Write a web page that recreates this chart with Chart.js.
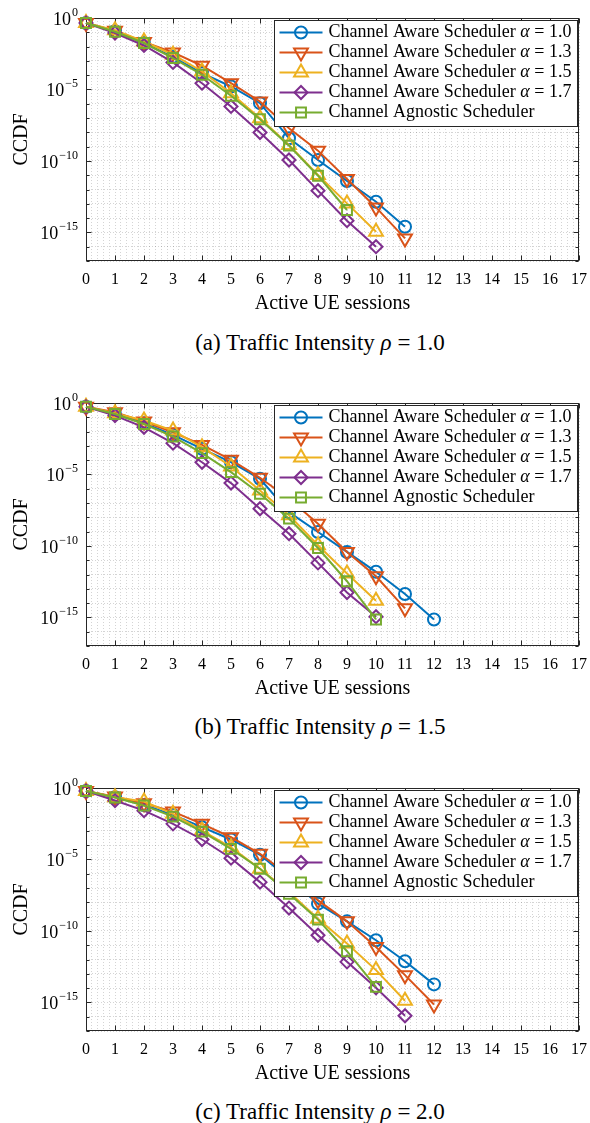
<!DOCTYPE html>
<html>
<head>
<meta charset="utf-8">
<script src="https://cdn.jsdelivr.net/npm/chart.js@4.4.1/dist/chart.umd.min.js"></script>
<style>
  body { margin: 0; background: #fff; width: 590px; height: 1123px; position: relative; overflow: hidden; font-family: "Liberation Serif", serif; }
  .panel { position: absolute; left: 0; width: 590px; height: 320px; }
  .caption { position: absolute; left: 50px; width: 540px; text-align: center; font-size: 23px; color: #000; line-height: 26px; }
</style>
</head>
<body>
<div class="panel" style="top:0px"><canvas id="chartA" width="590" height="320"></canvas></div>
<div class="caption" style="top:330px">(a) Traffic Intensity <i>ρ</i> = 1.0</div>
<div class="panel" style="top:385px"><canvas id="chartB" width="590" height="320"></canvas></div>
<div class="caption" style="top:714px">(b) Traffic Intensity <i>ρ</i> = 1.5</div>
<div class="panel" style="top:770px"><canvas id="chartC" width="590" height="320"></canvas></div>
<div class="caption" style="top:1099px">(c) Traffic Intensity <i>ρ</i> = 2.0</div>

<script>
// number of active UE sessions (x axis)
var sessions = [0, 1, 2, 3, 4, 5, 6, 7, 8, 9, 10, 11, 12];
var xTickLabels = ["0", "1", "2", "3", "4", "5", "6", "7", "8", "9", "10", "11", "12", "13", "14", "15", "16", "17"];
// y tick labels are 10^exp, drawn as base + raised exponent
var yTickExponents = [0, -5, -10, -15];
var yTickBase = "10";
var yTickPowers = ["0", "\u22125", "\u221210", "\u221215"];

var seriesLabels = [
  "Channel Aware Scheduler α = 1.0",
  "Channel Aware Scheduler α = 1.3",
  "Channel Aware Scheduler α = 1.5",
  "Channel Aware Scheduler α = 1.7",
  "Channel Agnostic Scheduler"
];

// (a) rho = 1.0
var rho10_alpha10 = [0.45, 0.117, 1.78e-2, 1.86e-3, 1.38e-4, 1.62e-5, 1.1e-6, 3.9e-9, 1.17e-10, 3.98e-12, 1.41e-13, 2.5e-15];
var rho10_alpha13 = [0.45, 0.129, 2.09e-2, 3.9e-3, 4.57e-4, 2.75e-5, 1.45e-6, 1.95e-8, 5.25e-10, 5.5e-12, 5.6e-14, 3.8e-16];
var rho10_alpha15 = [0.45, 0.138, 2.29e-2, 2.69e-3, 1.82e-4, 5.5e-6, 9.8e-8, 1.32e-9, 1.05e-11, 1.07e-13, 1.12e-15];
var rho10_alpha17 = [0.45, 8.9e-2, 1.2e-2, 7.8e-4, 2.75e-5, 6.5e-7, 9.8e-9, 1.17e-10, 8.3e-13, 6.6e-15, 1.0e-16];
var rho10_agnostic = [0.45, 0.11, 1.78e-2, 1.58e-3, 1.07e-4, 3.6e-6, 8.3e-8, 1.17e-9, 9.3e-12, 3.7e-14];

// (b) rho = 1.5
var rho15_alpha10 = [0.55, 0.17, 3.8e-2, 5.9e-3, 6.2e-4, 7.2e-5, 5.0e-6, 2.3e-8, 9.5e-10, 3.8e-11, 1.55e-12, 4.3e-14, 7.2e-16];
var rho15_alpha13 = [0.55, 0.224, 5.0e-2, 8.9e-3, 1.17e-3, 1.05e-4, 5.9e-6, 2.0e-7, 3.6e-9, 3.8e-11, 7.6e-13, 4.3e-15];
var rho15_alpha15 = [0.55, 0.19, 5.9e-2, 1.17e-2, 8.1e-4, 3.6e-5, 7.6e-7, 1.38e-8, 1.12e-10, 1.17e-12, 1.45e-14];
var rho15_alpha17 = [0.55, 0.132, 2.0e-2, 1.55e-3, 7.2e-5, 2.5e-6, 4.0e-8, 7.2e-10, 6.5e-12, 5.5e-14, 1.12e-15];
var rho15_agnostic = [0.55, 0.17, 3.4e-2, 4.5e-3, 3.1e-4, 1.45e-5, 4.5e-7, 8.1e-9, 7.2e-11, 3.4e-13, 7.2e-16];

// (c) rho = 2.0
var rho20_alpha10 = [0.62, 0.224, 6.5e-2, 1.32e-2, 1.82e-3, 2.5e-4, 2.14e-5, 4.5e-7, 8.1e-9, 4.7e-10, 2.24e-11, 7.6e-13, 1.82e-14];
var rho20_alpha13 = [0.62, 0.25, 8.5e-2, 2.24e-2, 3.1e-3, 3.6e-4, 2.5e-5, 7.6e-7, 1.38e-8, 4.7e-10, 7.6e-12, 8.1e-14, 7.2e-16];
var rho20_alpha15 = [0.62, 0.224, 0.112, 1.55e-2, 1.05e-3, 7.2e-5, 2.24e-6, 5.2e-8, 7.2e-10, 1.32e-11, 1.82e-13, 1.32e-15];
var rho20_alpha17 = [0.62, 0.132, 2.6e-2, 3.1e-3, 2.5e-4, 1.23e-5, 2.6e-7, 4.0e-9, 5.0e-11, 6.9e-13, 1.05e-14, 1.17e-16];
var rho20_agnostic = [0.62, 0.214, 5.9e-2, 1.0e-2, 8.9e-4, 5.5e-5, 2.24e-6, 4.0e-8, 6.2e-10, 3.8e-12, 1.23e-14];

// styles (MATLAB default order)
var seriesColors = ["#0072BD", "#D95319", "#EDB120", "#7E2F8E", "#77AC30"];
var seriesMarkers = ["circle", "triangle", "triangle", "rectRot", "rect"];
var seriesRotation = [0, 180, 0, 0, 0];
var seriesRadius = [6, 8, 8, 6.5, 7];

var serif = '"Liberation Serif", "Times New Roman", serif';

function toPoints(values) {
  return values.map(function (v, i) {
    return { x: sessions[i], y: v };
  });
}

// box + inward tick marks like matlab, plus the 10^n labels
var framePlugin = {
  id: "frame",
  beforeDatasetsDraw: function (chart) {
    var ctx = chart.ctx;
    var a = chart.chartArea;
    var x = chart.scales.x;
    var y = chart.scales.y;
    var L = Math.round(a.left) + 0.5, R = Math.round(a.right) - 0.5;
    var T = Math.round(a.top) + 0.5, B = Math.round(a.bottom) - 0.5;
    ctx.save();
    ctx.strokeStyle = "#262626";
    ctx.lineWidth = 1;
    ctx.beginPath();
    for (var i = 0; i < xTickLabels.length; i++) {
      var px = Math.round(x.getPixelForValue(i)) + 0.5;
      ctx.moveTo(px, B); ctx.lineTo(px, B - 5);
      ctx.moveTo(px, T); ctx.lineTo(px, T + 5);
    }
    for (var e = -17; e <= 0; e++) {
      var py = Math.round(y.getPixelForValue(Math.pow(10, e))) + 0.5;
      var len = e % 5 === 0 ? 5 : 3;
      ctx.moveTo(L, py); ctx.lineTo(L + len, py);
      ctx.moveTo(R, py); ctx.lineTo(R - len, py);
    }
    ctx.stroke();
    ctx.strokeRect(L, T, R - L, B - T);

    // y tick labels
    ctx.fillStyle = "#000";
    ctx.textAlign = "right";
    yTickExponents.forEach(function (ex, k) {
      var ty = y.getPixelForValue(Math.pow(10, ex));
      var right = a.left - 8;
      ctx.font = "12px " + serif;
      ctx.textBaseline = "alphabetic";
      ctx.fillText(yTickPowers[k], right, ty - 2);
      var pw = ctx.measureText(yTickPowers[k]).width;
      ctx.font = "18px " + serif;
      ctx.textBaseline = "middle";
      ctx.fillText(yTickBase, right - pw - 1, ty + 2);
    });
    ctx.restore();
  }
};

function drawMarker(ctx, style, r, rot, cx, cy) {
  if (Chart.helpers && Chart.helpers.drawPoint) {
    Chart.helpers.drawPoint(ctx, { pointStyle: style, radius: r, rotation: rot, borderWidth: 2 }, cx, cy);
  }
}

// legend inside the axes, top right
var legendPlugin = {
  id: "boxLegend",
  afterDatasetsDraw: function (chart) {
    var ctx = chart.ctx;
    var a = chart.chartArea;
    var w = 303, h = 106;
    var bx = Math.round(a.right) - w - 1.5;
    var by = Math.round(a.top) + 2.5;
    ctx.save();
    ctx.fillStyle = "#fff";
    ctx.fillRect(bx, by, w, h);
    ctx.strokeStyle = "#262626";
    ctx.lineWidth = 1;
    ctx.strokeRect(bx, by, w, h);
    chart.data.datasets.forEach(function (ds, i) {
      var cy = by + 12 + i * 20;
      ctx.strokeStyle = ds.borderColor;
      ctx.lineWidth = 2;
      ctx.beginPath();
      ctx.moveTo(bx + 5, cy);
      ctx.lineTo(bx + 48, cy);
      ctx.stroke();
      ctx.fillStyle = "rgba(0,0,0,0)";
      drawMarker(ctx, ds.pointStyle, ds.pointRadius, ds.pointRotation, bx + 26.5, cy);
      ctx.fillStyle = "#000";
      ctx.textBaseline = "middle";
      ctx.textAlign = "left";
      var parts = ds.label.split("α");
      var tx = bx + 54;
      ctx.font = "18px " + serif;
      ctx.fillText(parts[0], tx, cy);
      if (parts.length > 1) {
        tx += ctx.measureText(parts[0]).width;
        ctx.font = "italic 18px " + serif;
        ctx.fillText("α", tx, cy);
        tx += ctx.measureText("α").width;
        ctx.font = "18px " + serif;
        ctx.fillText(parts[1], tx, cy);
      }
    });
    ctx.restore();
  }
};

function makeChart(id, seriesList) {
  var ctx = document.getElementById(id).getContext("2d");
  var datasets = seriesList.map(function (values, i) {
    return {
      label: seriesLabels[i],
      data: toPoints(values),
      borderColor: seriesColors[i],
      backgroundColor: seriesColors[i],
      borderWidth: 2,
      pointStyle: seriesMarkers[i],
      pointRotation: seriesRotation[i],
      pointRadius: seriesRadius[i],
      pointBorderWidth: 2,
      pointBorderColor: seriesColors[i],
      pointBackgroundColor: "rgba(0,0,0,0)",
      pointHoverRadius: seriesRadius[i],
      tension: 0,
      clip: false,
      order: seriesList.length - i
    };
  });
  return new Chart(ctx, {
    type: "line",
    data: { datasets: datasets },
    plugins: [framePlugin, legendPlugin],
    options: {
      responsive: false,
      animation: false,
      events: [],
      layout: { padding: { top: 18, right: 11, left: 0, bottom: 0 } },
      plugins: { legend: { display: false }, tooltip: { enabled: false } },
      scales: {
        x: {
          type: "linear",
          min: 0,
          max: 17,
          afterBuildTicks: function (scale) {
            var t = [];
            for (var k = 0; k <= 17 * 5; k++) t.push({ value: k / 5 });
            scale.ticks = t;
          },
          afterFit: function (scale) {
            scale.height = 59;
            scale.paddingLeft = 0;
            scale.paddingRight = 0;
          },
          ticks: {
            autoSkip: false,
            maxRotation: 0,
            padding: 9,
            color: "#000",
            font: { family: serif, size: 16 },
            callback: function (value) {
              var r = Math.round(value);
              return Math.abs(value - r) < 1e-6 ? xTickLabels[r] : "";
            }
          },
          grid: { color: "rgba(38,38,38,0.2)", drawTicks: false, lineWidth: 1 },
          border: { display: false, dash: [1, 2] },
          title: { display: true, text: "Active UE sessions", color: "#000", font: { family: serif, size: 20 }, padding: { top: 0, bottom: 4 } }
        },
        y: {
          type: "logarithmic",
          min: 1e-17,
          max: 1,
          afterBuildTicks: function (scale) {
            var t = [];
            for (var e = -17; e <= 0; e++) t.push({ value: Math.pow(10, e) });
            scale.ticks = t;
          },
          afterFit: function (scale) {
            scale.width = 86;
            scale.paddingTop = 0;
            scale.paddingBottom = 0;
          },
          ticks: { display: false, autoSkip: false },
          grid: { color: "rgba(38,38,38,0.2)", drawTicks: false, lineWidth: 1 },
          border: { display: false, dash: [1, 2] },
          title: { display: true, text: "CCDF", color: "#000", font: { family: serif, size: 20 }, padding: { top: 10, bottom: 0 } }
        }
      }
    }
  });
}

document.addEventListener("DOMContentLoaded", function () {
  makeChart("chartA", [rho10_alpha10, rho10_alpha13, rho10_alpha15, rho10_alpha17, rho10_agnostic]);
  makeChart("chartB", [rho15_alpha10, rho15_alpha13, rho15_alpha15, rho15_alpha17, rho15_agnostic]);
  makeChart("chartC", [rho20_alpha10, rho20_alpha13, rho20_alpha15, rho20_alpha17, rho20_agnostic]);
});
</script>
</body>
</html>
